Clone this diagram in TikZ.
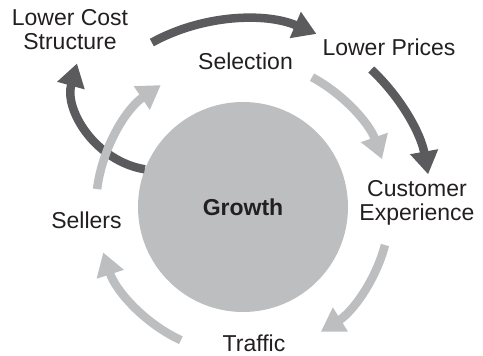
\documentclass[tikz,border=0pt]{standalone}
\usepackage{fontspec}
\setmainfont{Liberation Sans}
\usetikzlibrary{arrows.meta}
\definecolor{dark}{HTML}{5B5B5E}
\definecolor{pale}{HTML}{BCBEC0}
\definecolor{ink}{HTML}{231F20}
\tikzset{
  lbl/.style={anchor=base, inner sep=0, align=center, text=ink, font=\fontsize{23}{24}\selectfont},
  ring/.style={circle, inner sep=0, outer sep=0},
  darkarrow/.style={draw=dark, line width=8.5pt, -{Triangle[length=23pt,width=27pt]}, looseness=0.88},
  palearrow/.style={draw=pale, line width=8.5pt, -{Triangle[length=23pt,width=27pt]}, looseness=0.88}
}
\begin{document}
\begin{tikzpicture}[x=1pt,y=1pt]
\useasboundingbox (0,0) rectangle (483,356);
\node[circle, fill=pale, minimum size=210pt, inner sep=0, text=ink, font=\fontsize{23}{24}\selectfont\bfseries] (growth) at (243,149) {Growth};
\node[ring, minimum size=294pt] (inner) at (growth) {};
\node[ring, minimum size=376pt] (outer) at (growth) {};
\node[lbl] (cost) at (70,306) {Lower Cost\\Structure};
\node[lbl] (sel) at (245.5,286) {Selection};
\node[lbl] (prices) at (389,300) {Lower Prices};
\node[lbl] (cust) at (417,135) {Customer\\Experience};
\node[lbl] (traffic) at (254,4) {Traffic};
\node[lbl] (sellers) at (86.5,127) {Sellers};
\draw[darkarrow] (outer.119.3) to[bend left=26] (outer.67.5);
\draw[darkarrow] (outer.47.1) to[bend left=18.4] (outer.10.4);
\draw[darkarrow, looseness=1] (growth.159) to[bend left=48] ([shift={(7,-13)}]cost.south);
\draw[palearrow] (inner.62) to[bend left=21.1] (inner.19.8);
\draw[palearrow] (inner.345.8) to[bend left=21.6] (inner.302.7);
\draw[palearrow] (inner.245.2) to[bend left=23.5] (inner.198.2);
\draw[palearrow] (inner.173) to[bend left=24.4] (inner.124.2);
\end{tikzpicture}
\end{document}
